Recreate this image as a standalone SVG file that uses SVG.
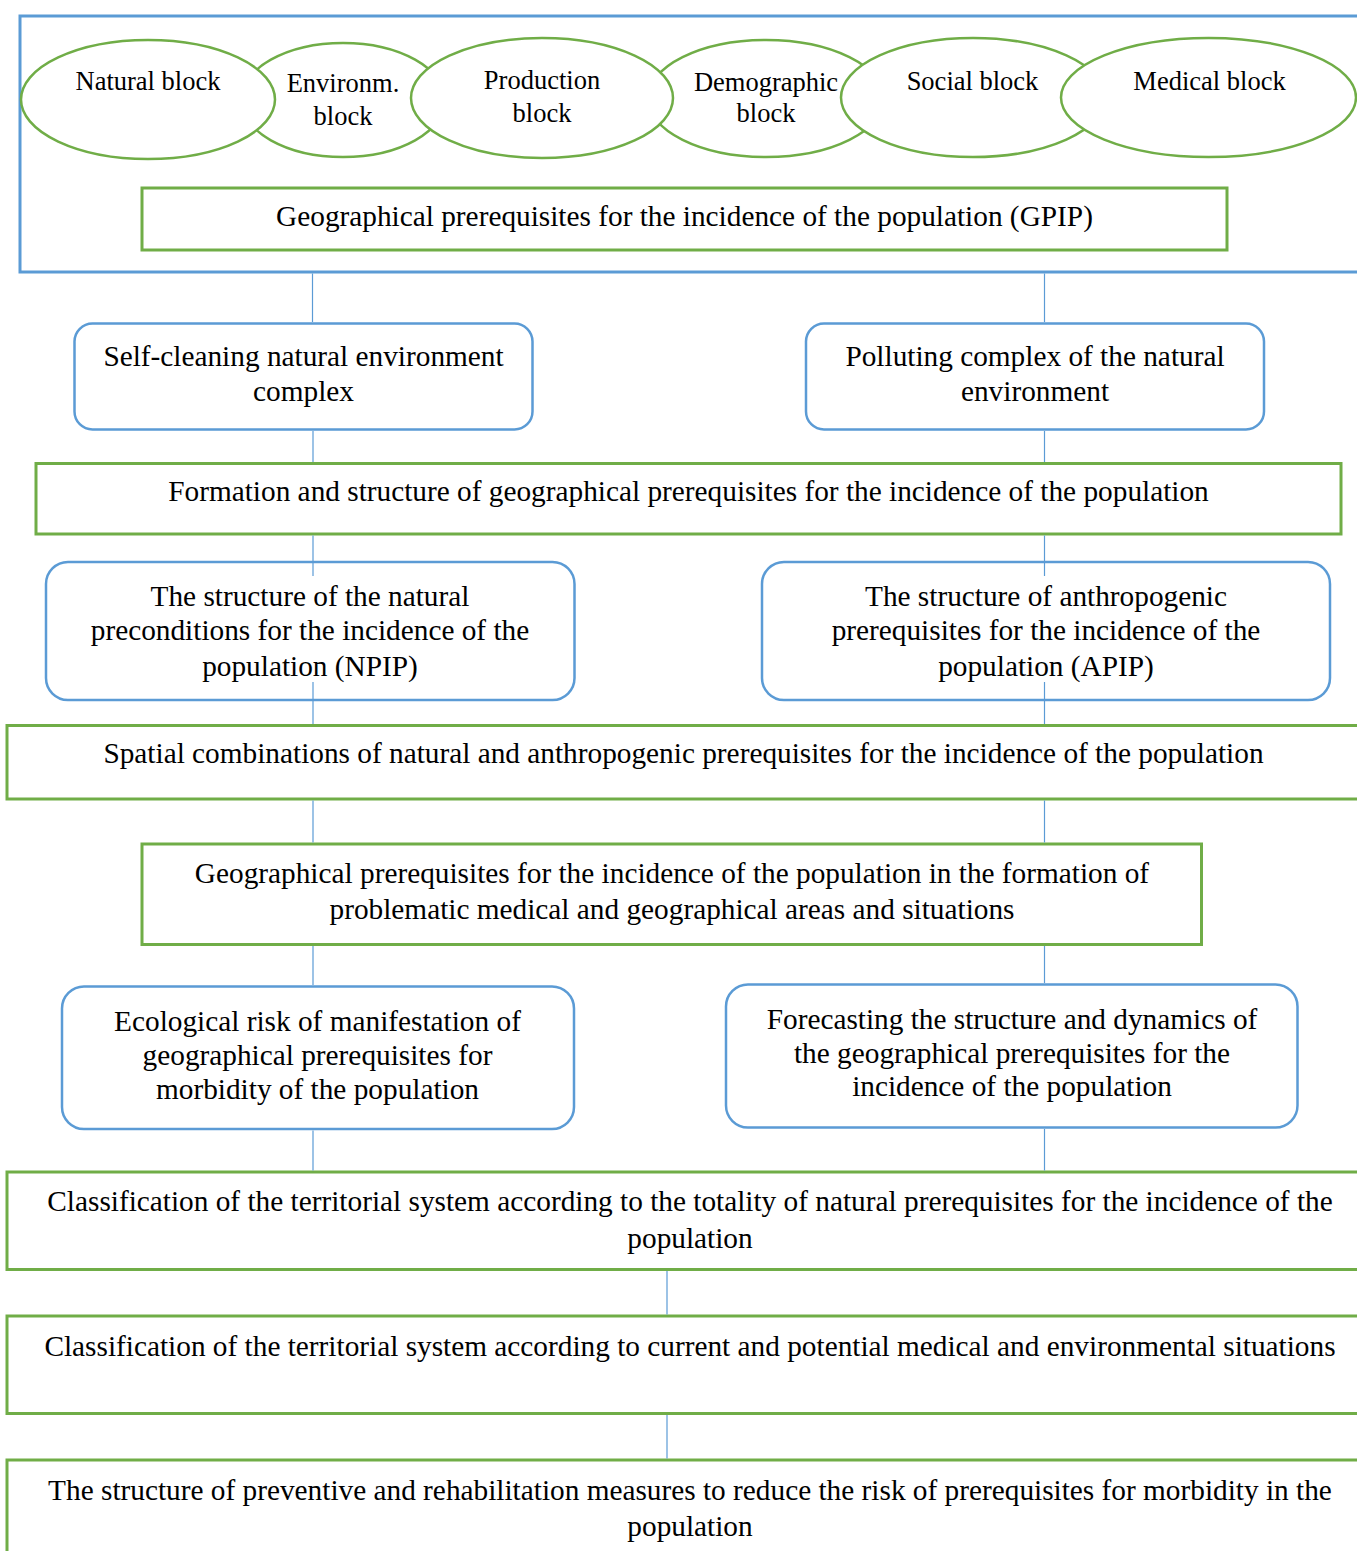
<svg xmlns="http://www.w3.org/2000/svg" width="1357" height="1551" viewBox="0 0 1357 1551">
<style>
text{font-family:"Liberation Serif","Times New Roman",serif;font-size:29.3px;fill:#000;text-anchor:middle}
.ell{fill:#fff;stroke:#70AD47;stroke-width:2.5}
.et{font-size:26.5px}
.gbox{fill:#fff;stroke:#70AD47;stroke-width:3}
.bbox{fill:#fff;stroke:#5B9BD5;stroke-width:2.5}
.frame{fill:none;stroke:#5B9BD5;stroke-width:3}
.conn line{stroke:#5B9BD5;stroke-width:1.2}
</style>
<rect width="1357" height="1551" fill="#fff"/>
<g id="frame"><rect class="frame" x="20" y="16" width="1352" height="256"/></g>
<g id="environm-block"><ellipse class="ell" cx="343" cy="100" rx="102" ry="57"/><text class="et" x="343" y="92">Environm.</text><text class="et" x="343" y="125">block</text></g>
<g id="natural-block"><ellipse class="ell" cx="148" cy="99.5" rx="127" ry="59.5"/><text class="et" x="148" y="90">Natural block</text></g>
<g id="demographic-block"><ellipse class="ell" cx="766" cy="98.5" rx="118" ry="58.5"/><text class="et" x="766" y="90.5">Demographic</text><text class="et" x="766" y="122">block</text></g>
<g id="production-block"><ellipse class="ell" cx="542" cy="98" rx="131" ry="60"/><text class="et" x="542" y="89">Production</text><text class="et" x="542" y="121.5">block</text></g>
<g id="social-block"><ellipse class="ell" cx="973" cy="97.5" rx="132" ry="59.5"/><text class="et" x="972.5" y="90">Social block</text></g>
<g id="medical-block"><ellipse class="ell" cx="1208.5" cy="97.5" rx="147.5" ry="59.5"/><text class="et" x="1209.5" y="90">Medical block</text></g>
<g id="gpip"><rect class="gbox" x="142" y="188" width="1085" height="62"/><text x="684.5" y="226">Geographical prerequisites for the incidence of the population (GPIP)</text></g>
<g id="self-cleaning"><rect class="bbox" x="74.5" y="323.5" width="458" height="106" rx="18"/><text x="303.5" y="365.5">Self-cleaning natural environment</text><text x="303.5" y="401">complex</text></g>
<g id="polluting"><rect class="bbox" x="806" y="323.5" width="458" height="106" rx="18"/><text x="1035" y="365.5">Polluting complex of the natural</text><text x="1035" y="401">environment</text></g>
<g id="formation"><rect class="gbox" x="36" y="463.5" width="1305" height="70.5"/><text x="688.5" y="501">Formation and structure of geographical prerequisites for the incidence of the population</text></g>
<g id="npip"><rect class="bbox" x="46" y="562" width="528.5" height="138" rx="22"/><text x="310" y="606">The structure of the natural</text><text x="310" y="640">preconditions for the incidence of the</text><text x="310" y="675.5">population (NPIP)</text></g>
<g id="apip"><rect class="bbox" x="762" y="562" width="568" height="138" rx="22"/><text x="1046" y="606">The structure of anthropogenic</text><text x="1046" y="640">prerequisites for the incidence of the</text><text x="1046" y="675.5">population (APIP)</text></g>
<g id="spatial"><rect class="gbox" x="7" y="725.5" width="1366" height="73.5"/><text x="683.5" y="762.5">Spatial combinations of natural and anthropogenic prerequisites for the incidence of the population</text></g>
<g id="geo-formation"><rect class="gbox" x="142" y="844" width="1059.5" height="100.5"/><text x="672" y="883">Geographical prerequisites for the incidence of the population in the formation of</text><text x="672" y="918.5">problematic medical and geographical areas and situations</text></g>
<g id="ecological"><rect class="bbox" x="62" y="986.5" width="512" height="142.5" rx="22"/><text x="317.5" y="1030.5">Ecological risk of manifestation of</text><text x="317.5" y="1065">geographical prerequisites for</text><text x="317.5" y="1098.5">morbidity of the population</text></g>
<g id="forecasting"><rect class="bbox" x="726" y="984.5" width="571.5" height="143" rx="22"/><text x="1012" y="1028.5">Forecasting the structure and dynamics of</text><text x="1012" y="1062.5">the geographical prerequisites for the</text><text x="1012" y="1096">incidence of the population</text></g>
<g id="classification-natural"><rect class="gbox" x="7" y="1172" width="1366" height="97.5"/><text x="690" y="1211">Classification of the territorial system according to the totality of natural prerequisites for the incidence of the</text><text x="690" y="1247.5">population</text></g>
<g id="classification-situations"><rect class="gbox" x="7" y="1316" width="1366" height="97.5"/><text x="690" y="1356">Classification of the territorial system according to current and potential medical and environmental situations</text></g>
<g id="measures"><rect class="gbox" x="7" y="1460" width="1366" height="110"/><text x="690" y="1499.5">The structure of preventive and rehabilitation measures to reduce the risk of prerequisites for morbidity in the</text><text x="690" y="1536">population</text></g>
<g id="connectors" class="conn">
<line x1="312.5" y1="273.5" x2="312.5" y2="322"/>
<line x1="1044.5" y1="273.5" x2="1044.5" y2="322"/>
<line x1="313" y1="431" x2="313" y2="462"/>
<line x1="1044.5" y1="431" x2="1044.5" y2="462"/>
<line x1="313" y1="535.5" x2="313" y2="576"/>
<line x1="1044.5" y1="535.5" x2="1044.5" y2="576"/>
<line x1="313" y1="682" x2="313" y2="724"/>
<line x1="1044.5" y1="682" x2="1044.5" y2="724"/>
<line x1="313" y1="800.5" x2="313" y2="842.5"/>
<line x1="1044.5" y1="800.5" x2="1044.5" y2="842.5"/>
<line x1="313" y1="946" x2="313" y2="985"/>
<line x1="1044.5" y1="946" x2="1044.5" y2="983"/>
<line x1="313" y1="1130.5" x2="313" y2="1170.5"/>
<line x1="1044.5" y1="1129" x2="1044.5" y2="1170.5"/>
<line x1="667" y1="1271" x2="667" y2="1314.5"/>
<line x1="667" y1="1415" x2="667" y2="1458.5"/>
</g>
</svg>
